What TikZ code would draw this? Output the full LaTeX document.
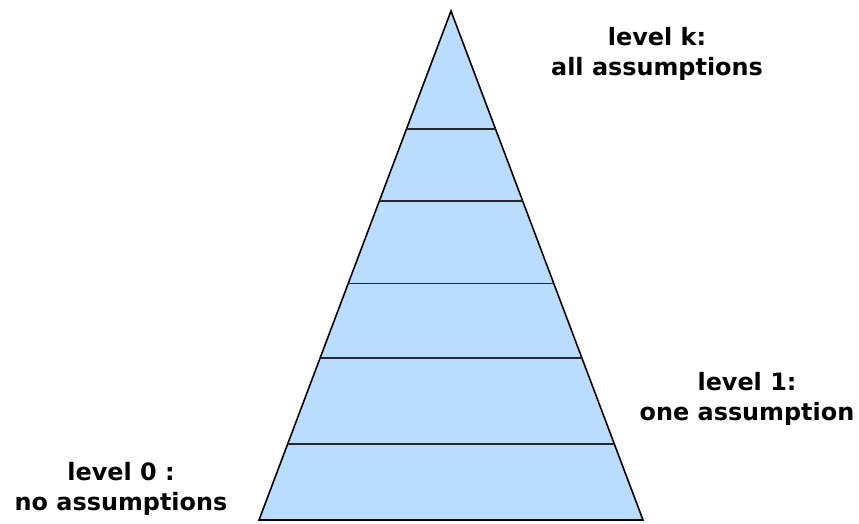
\documentclass[tikz,border=0pt]{standalone}
\usepackage{fontspec}
\setmainfont{DejaVu Sans}
\usepackage{xcolor}
\usetikzlibrary{calc}

\definecolor{pyrfill}{RGB}{185,220,255}

\begin{document}
\begin{tikzpicture}[
    x=0.02cm, y=-0.02cm,
    % --- Styles ---
    pyramid/.style={draw=black, line width=0.9pt, fill=pyrfill, line join=miter},
    levelline/.style={draw=black!85, line width=1.1pt},
    levellbl/.style={font=\fontsize{13.6}{17.5}\selectfont\bfseries, text=black,
        align=center, inner sep=0pt},
]

% ---- Canvas ----
\useasboundingbox (0,0) rectangle (859,524);

% ---- Pyramid outline ----
\coordinate (apex) at (451,11);
\coordinate (bl)   at (259,520);
\coordinate (br)   at (643,520);
\draw[pyramid] (apex) -- (br) -- (bl) -- cycle;

% ---- Level separators ----
\foreach \t in {0.2323, 0.3740, 0.5354, 0.6811, 0.8504}{
    \draw[levelline] ($(apex)!\t!(bl)$) -- ($(apex)!\t!(br)$);
}

% ---- Labels ----
\node[levellbl] (topk)  at (657,54)  {level k:\\all assumptions};
\node[levellbl] (lvl1)  at (747,399) {level 1:\\one assumption};
\node[levellbl] (lvl0)  at (121,489) {level 0 :\\no assumptions};

\end{tikzpicture}
\end{document}
